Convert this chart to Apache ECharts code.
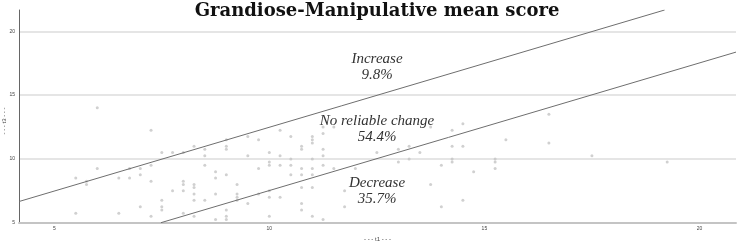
<!DOCTYPE html>
<html>
<head>
<meta charset="utf-8">
<script src="https://cdn.jsdelivr.net/npm/echarts@6/dist/echarts.min.js"></script>
<style>
  html, body { margin: 0; padding: 0; background: #fff; }
  #chart { width: 737px; height: 241px; }
</style>
</head>
<body>
<div id="chart"></div>
<script>
// t1 / t3 mean scores, one pair per participant
var t1 = [5.5, 5.5, 5.75, 5.75, 6, 6, 6.5, 6.5, 6.75, 6.75, 7, 7, 7, 7.25, 7.25, 7.25, 7.25,
    7.5, 7.5, 7.5, 7.5, 7.75, 7.75, 8, 8, 8, 8, 8,
    8.25, 8.25, 8.25, 8.25, 8.25, 8.25, 8.5, 8.5, 8.5, 8.5, 8.75, 8.75, 8.75, 8.75,
    9, 9, 9, 9, 9, 9, 9, 9.25, 9.25, 9.25, 9.25, 9.5, 9.5, 9.5, 9.75, 9.75, 9.75,
    10, 10, 10, 10, 10, 10, 10.25, 10.25, 10.25, 10.25, 10.5, 10.5, 10.5, 10.5,
    10.75, 10.75, 10.75, 10.75, 10.75, 10.75, 10.75, 11, 11, 11, 11, 11, 11, 11, 11,
    11.25, 11.25, 11.25, 11.25, 11.25, 11.25, 11.5, 11.5, 11.75, 11.75, 12, 12.5,
    13, 13, 13.25, 13.25, 13.5, 13.75, 13.75, 14, 14, 14.25, 14.25, 14.25, 14.25,
    14.5, 14.5, 14.5, 14.75, 15.25, 15.25, 15.25, 15.5, 16.5, 16.5, 17.5, 19.25];
var t3 = [8.5, 5.75, 8.25, 8, 14, 9.25, 8.5, 5.75, 9.25, 8.5, 9.25, 8.75, 6.25, 12.25, 9.5, 8.25, 5.5,
    10.5, 6.75, 6.25, 6, 10.5, 7.5, 10.5, 8.25, 8, 7.5, 5.75,
    11, 8, 7.75, 7.25, 6.75, 5.5, 10.75, 10.25, 9.5, 6.75, 9, 8.5, 7.25, 5.25,
    11.5, 11, 10.75, 8.75, 6, 5.5, 5.25, 8, 7.25, 7, 6.75, 11.75, 10.25, 6.5, 11.5, 9.25, 7.25,
    10.5, 9.75, 9.5, 7.5, 7, 5.5, 12.25, 10.25, 9.5, 7, 11.75, 10, 9.5, 8.75,
    11, 10.75, 9.25, 8.75, 7.75, 6.5, 6, 11.75, 11.5, 11.25, 10, 9.25, 8.75, 7.75, 5.5,
    12.5, 12, 10.75, 10.25, 9.5, 5.25, 12.5, 9.25, 7.5, 6.25, 9.25, 10.5,
    10.75, 9.75, 11, 10, 10.5, 12.5, 8, 9.5, 6.25, 12.25, 11, 10, 9.75,
    12.75, 11, 6.75, 9, 10, 9.75, 9.25, 11.5, 13.5, 11.25, 10.25, 9.75];

// reliable change bounds (t3 = t1 +/- 2.48)
var upperLine = [[4.18, 6.66], [19.19, 21.67]];
var lowerLine = [[7.48, 5], [20.85, 18.37]];

var xTicks = [5, 10, 15, 20];
var zoneLabels = [
    { name: 'Increase', pct: '9.8%' },
    { name: 'No reliable change', pct: '54.4%' },
    { name: 'Decrease', pct: '35.7%' }
];

var points = t1.map(function (v, i) { return [v, t3[i]]; });

var chart = echarts.init(document.getElementById('chart'));

var zoneTop = [51, 113, 175];
var graphics = [{
    type: 'text',
    x: 377,
    y: 2,
    style: {
        text: 'Grandiose-Manipulative mean score',
        font: 'bold 18px "DejaVu Serif"',
        fill: '#111',
        align: 'center'
    }
}, {
    // y axis title, rotated
    type: 'text',
    x: 1,
    y: 121,
    rotation: Math.PI / 2,
    style: {
        text: '- - - t3 - - -',
        font: '6px sans-serif',
        fill: '#444',
        align: 'center',
        verticalAlign: 'top'
    }
}];
zoneLabels.forEach(function (z, i) {
    graphics.push({
        type: 'text',
        x: 377,
        y: zoneTop[i],
        style: {
            text: z.name + '\n' + z.pct,
            font: 'italic 15px "Liberation Serif"',
            lineHeight: 16,
            fill: '#333',
            align: 'center'
        }
    });
});

chart.setOption({
    animation: false,
    grid: { left: 19, right: 1, top: 10, bottom: 18.3, outerBoundsMode: 'none', containLabel: false },
    xAxis: {
        type: 'value',
        min: 4.18,
        max: 20.85,
        name: '- - - t1 - - -',
        nameLocation: 'middle',
        nameGap: 14,
        nameTextStyle: { fontSize: 6, color: '#444' },
        axisLine: { show: true, onZero: false, lineStyle: { color: '#c4c4c4', width: 2 } },
        axisTick: { show: false },
        axisLabel: { customValues: xTicks, fontSize: 5, color: '#444', margin: 3 },
        splitLine: { show: false }
    },
    yAxis: {
        type: 'value',
        min: 5,
        max: 21.67,
        interval: 5,
        axisLine: { show: true, lineStyle: { color: '#666', width: 1 } },
        axisTick: { show: false },
        axisLabel: { fontSize: 5, color: '#444', margin: 4, showMaxLabel: false },
        splitLine: { show: true, showMaxLine: false, lineStyle: { color: '#dcdcdc', width: 1.5 } }
    },
    series: [{
        type: 'scatter',
        data: points,
        symbol: 'circle',
        symbolSize: 3,
        itemStyle: { color: '#c4c4c4' },
        silent: true
    }, {
        type: 'line',
        data: upperLine,
        symbol: 'none',
        lineStyle: { color: '#6e6e6e', width: 1 },
        silent: true
    }, {
        type: 'line',
        data: lowerLine,
        symbol: 'none',
        lineStyle: { color: '#6e6e6e', width: 1 },
        silent: true
    }],
    graphic: graphics
});

window.addEventListener('resize', function () {
    chart.resize();
});
</script>
</body>
</html>
